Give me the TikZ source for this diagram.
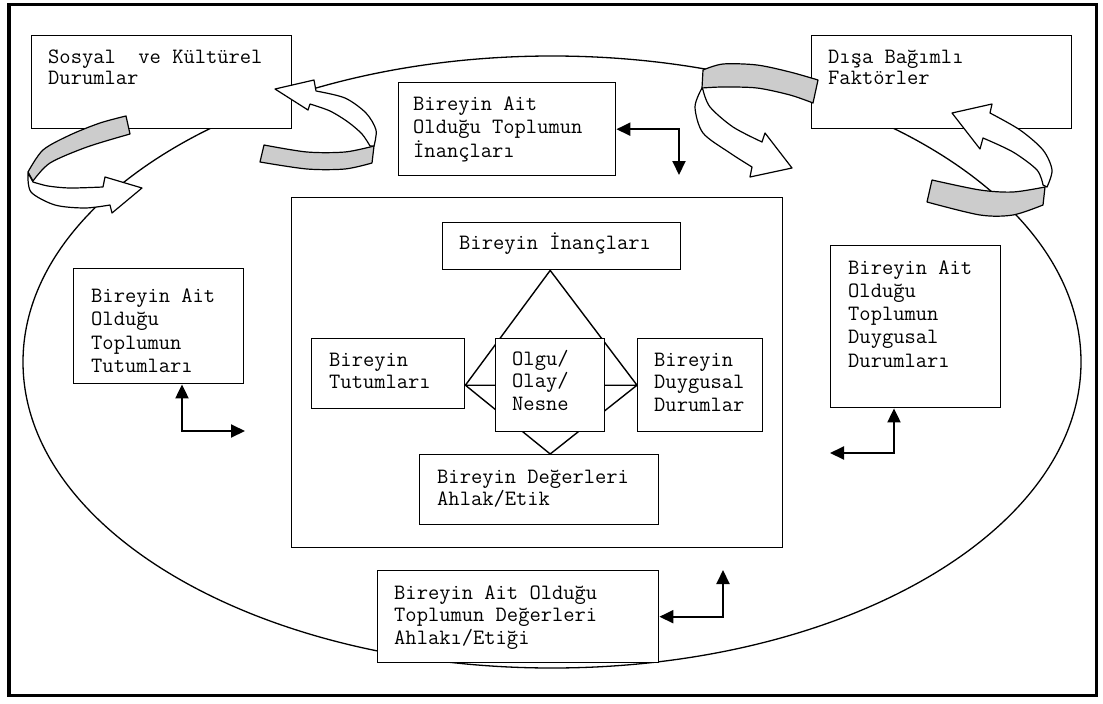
\documentclass[tikz,border=0pt]{standalone}
\usepackage{fontspec}
\usetikzlibrary{arrows.meta,backgrounds,calc}
\begin{document}
\begin{tikzpicture}[x=1pt,y=-1pt,
  box/.style={draw, line width=1.4pt, fill=white, inner sep=0pt, anchor=north west},
  txt/.style={anchor=north west, inner sep=0pt, align=left,
    font=\ttfamily\fontsize{21.9}{22.5}\selectfont},
  link/.style={line width=2pt,
    {Triangle[length=14pt,width=13pt]}-{Triangle[length=14pt,width=13pt]}},
  edge/.style={line width=1.4pt},
  back/.style={draw, line width=1.2pt, fill=black!20, line join=round},
  front/.style={draw, line width=1.2pt, fill=white, line join=round},
]
\useasboundingbox (0,0) rectangle (1103,704);
% outer frame
\draw[line width=3.5pt] (9,4.5) rectangle (1096.5,695.5);
% the surrounding society
\draw[line width=1.3pt] (552,362) ellipse [x radius=529, y radius=306];

% outer boxes
\node[box, minimum width=260, minimum height=93] (sosyal) at (31,35) {};
\node[box, minimum width=260, minimum height=93] (disa) at (811,35) {};
\node[box, minimum width=217, minimum height=93] (inancT) at (398,82) {};
\node[box, minimum width=170, minimum height=115] (tutL) at (73,268) {};
\node[box, minimum width=170, minimum height=162] (duyR) at (830,245) {};
\node[box, minimum width=281, minimum height=92] (degB) at (377,570) {};

% the individual
\node[box, fill=none, minimum width=491, minimum height=350] (inner) at (291,197) {};
\node[box, minimum width=238, minimum height=47] (inancC) at (442,222) {};
\node[box, minimum width=153, minimum height=70] (tutC) at (311,338) {};
\node[box, minimum width=109, minimum height=93] (olgu) at (495,338) {};
\node[box, minimum width=125, minimum height=93] (duyC) at (637,338) {};
\node[box, minimum width=239, minimum height=70] (degC) at (419,454) {};

\begin{scope}[on background layer]
  \draw[edge] (olgu |- inancC.south) -- (tutC.east |- olgu) -- (olgu |- degC.north)
    -- (duyC.west |- olgu) -- cycle
    (tutC.east |- olgu) -- (duyC.west |- olgu);
\end{scope}

% texts (each node's top is the first baseline less 0.7 baselineskip)
\node[txt, font=\ttfamily\fontsize{21.9}{21}\selectfont] (sosyalT) at (48,48.3) {\strut Sosyal~ ve Kültürel\\Durumlar};
\node[txt, font=\ttfamily\fontsize{21.9}{21}\selectfont] (disaT) at (828,48.3) {\strut Dışa Bağımlı\\Faktörler};
\node[txt, font=\ttfamily\fontsize{21.9}{23.5}\selectfont] (inancTT) at (413,93.5) {\strut Bireyin Ait\\Olduğu Toplumun\\İnançları};
\node[txt, font=\ttfamily\fontsize{21.9}{23.5}\selectfont] (tutLT) at (91,285.5) {\strut Bireyin Ait\\Olduğu\\Toplumun\\Tutumları};
\node[txt, font=\ttfamily\fontsize{21.9}{23.2}\selectfont] (duyRT) at (848,257.8) {\strut Bireyin Ait\\Olduğu\\Toplumun\\Duygusal\\Durumları};
\node[txt] (degBT) at (394,583.3) {\strut Bireyin Ait Olduğu\\Toplumun Değerleri\\Ahlakı/Etiği};
\node[txt] (inancCT) at (459,232.3) {\strut Bireyin İnançları};
\node[txt] (tutCT) at (329,350.3) {\strut Bireyin\\Tutumları};
\node[txt] (olguT) at (512,349.3) {\strut Olgu/\\Olay/\\Nesne};
\node[txt] (duyCT) at (654,350.3) {\strut Bireyin\\Duygusal\\Durumlar};
\node[txt] (degCT) at (437,467.3) {\strut Bireyin Değerleri\\Ahlak/Etik};

% two-way elbow links
\coordinate (tdn) at (679,175);
\coordinate (lc) at (182,431);
\coordinate (lr) at (245,431);
\coordinate (rc) at (894,453);
\coordinate (rl) at (830,453);
\coordinate (bup) at (723,570);
\draw[link] (inancT.east) -| (tdn);
\draw[link] (tutL.south -| lc) |- (lr);
\draw[link] (duyR.south -| rc) |- (rl);
\draw[link] (degB.east) -| (bup);

% curved ribbon arrows: shaded back band, then the white arrow band
% below Sosyal ve Kultürel Durumlar
\path[back] plot[smooth] coordinates {(126,116) (100,123) (70,135) (43,150) (28,172)}
  -- plot[smooth] coordinates {(33,181) (50,163) (87,147) (130,134)} -- cycle;
\path[front] plot[smooth] coordinates {(28,173) (31,192) (55,205) (85,208) (110,205)}
  -- (112,213) -- (142,188) -- (105,177)
  -- plot[smooth] coordinates {(103,187) (70,188) (48,186) (33,182)} -- cycle;
% right of Sosyal ve Kultürel Durumlar
\path[back] plot[smooth] coordinates {(264,145) (307,152) (345,152) (374,146)}
  -- plot[smooth] coordinates {(372,163) (345,169) (307,169) (260,162)} -- cycle;
\path[front] (275,89) -- (314,80)
  -- plot[smooth] coordinates {(316,91) (345,98) (366,113) (376,130) (374,146)}
  -- plot[smooth] coordinates {(370,146) (362,134) (348,122) (330,111) (310,104)}
  -- (308,110) -- cycle;
% left of Dışa Bağımlı Faktörler
\path[back] plot[smooth] coordinates {(703,70) (723,64) (757,65) (790,72) (818,80)}
  -- plot[smooth] coordinates {(813,103) (790,95) (757,88) (723,87) (702,88)} -- cycle;
\path[front] plot[smooth] coordinates {(702,88) (695,107) (703,133) (730,153) (752,167)}
  -- (750,177) -- (792,168) -- (765,133)
  -- plot[smooth] coordinates {(762,142) (733,127) (710,107) (703,90)} -- cycle;
% below Dışa Bağımlı Faktörler
\path[back] plot[smooth] coordinates {(932,180) (980,190) (1013,192) (1045,187)}
  -- plot[smooth] coordinates {(1043,205) (1013,215) (980,215) (927,202)} -- cycle;
\path[front] (952,113) -- (992,104)
  -- plot[smooth] coordinates {(990,113) (1020,130) (1043,150) (1052,170) (1047,187)}
  -- plot[smooth] coordinates {(1043,185) (1037,170) (1013,152) (983,138)}
  -- (980,149) -- cycle;
\end{tikzpicture}
\end{document}
